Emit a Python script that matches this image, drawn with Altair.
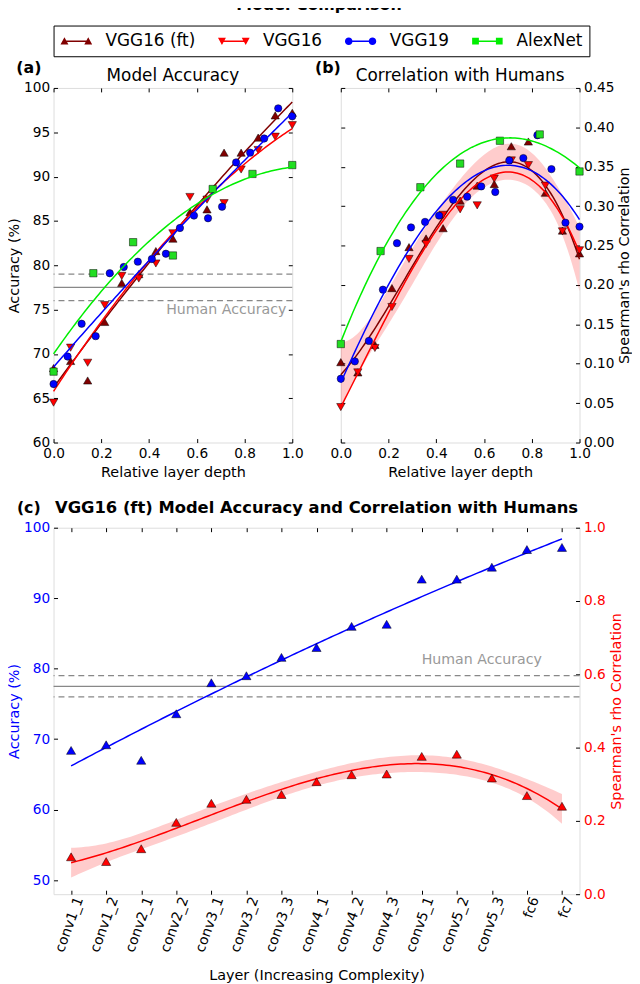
import numpy as np
import pandas as pd
import altair as alt

FONT = "DejaVu Sans"

# ---------------- data ----------------
models = ["VGG16 (ft)", "VGG16", "VGG19", "AlexNet"]
vgg16_layers = ["conv1_1", "conv1_2", "conv2_1", "conv2_2", "conv3_1", "conv3_2",
                "conv3_3", "conv4_1", "conv4_2", "conv4_3", "conv5_1", "conv5_2",
                "conv5_3", "fc6", "fc7"]

acc_vgg16_ft = [68.4, 69.2, 67.0, 73.6, 78.0, 79.0, 81.6, 83.0, 86.0, 86.3, 92.7, 92.7, 94.4, 96.9, 97.2]
acc_vgg16 = [64.5, 70.7, 69.0, 75.5, 78.8, 78.5, 80.2, 83.6, 87.7, 87.4, 87.0, 90.8, 93.0, 94.5, 95.8]
acc_vgg19 = [66.6, 69.7, 73.4, 72.0, 79.1, 79.8, 80.4, 80.7, 81.3, 84.2, 85.6, 85.3, 86.6, 91.6, 92.7, 94.3, 97.7, 96.8]
acc_alexnet = [68.0, 79.1, 82.6, 81.1, 88.6, 90.3, 91.3]

rho_vgg16_ft = [0.102, 0.089, 0.124, 0.196, 0.248, 0.259, 0.272, 0.307, 0.326, 0.328, 0.376, 0.382, 0.317, 0.269, 0.240]
rho_vgg16 = [0.045, 0.089, 0.120, 0.172, 0.233, 0.252, 0.289, 0.296, 0.301, 0.335, 0.358, 0.352, 0.326, 0.268, 0.244]
rho_vgg19 = [0.081, 0.103, 0.129, 0.194, 0.253, 0.273, 0.280, 0.288, 0.308, 0.312, 0.325, 0.318, 0.358, 0.361, 0.390, 0.347, 0.279, 0.274]
rho_alexnet = [0.125, 0.243, 0.324, 0.354, 0.383, 0.391, 0.344]

human_acc_mean = 77.5
human_acc_sd = 1.5

acc = {"VGG16 (ft)": acc_vgg16_ft, "VGG16": acc_vgg16, "VGG19": acc_vgg19, "AlexNet": acc_alexnet}
rho = {"VGG16 (ft)": rho_vgg16_ft, "VGG16": rho_vgg16, "VGG19": rho_vgg19, "AlexNet": rho_alexnet}

# ---------------- styles ----------------
line_color = {"VGG16 (ft)": "#800000", "VGG16": "#ff0000", "VGG19": "#0000ff", "AlexNet": "#00ee00"}
fill_color = {"VGG16 (ft)": "#800000", "VGG16": "#ff0000", "VGG19": "#0000ff", "AlexNet": "#22dd22"}
marker = {"VGG16 (ft)": "triangle-up", "VGG16": "triangle-down", "VGG19": "circle", "AlexNet": "square"}
msize = {"VGG16 (ft)": 70, "VGG16": 70, "VGG19": 55, "AlexNet": 55}


def _tri_up(cx):
    return f"M{cx-1},0.85L{cx},-1L{cx+1},0.85Z"


def _tri_down(cx):
    return f"M{cx-1},-0.85L{cx+1},-0.85L{cx},1Z"


def _square(cx):
    return f"M{cx-0.85},-0.85L{cx+0.85},-0.85L{cx+0.85},0.85L{cx-0.85},0.85Z"


def _circle(cx):
    return f"M{cx-0.95},0A0.95,0.95 0 1,1 {cx+0.95},0A0.95,0.95 0 1,1 {cx-0.95},0Z"


_seg = "M0,-0.19L6,-0.19L6,0.19L0,0.19Z"
legend_path = {
    "VGG16 (ft)": _seg + _tri_up(0) + _tri_up(6),
    "VGG16": _seg + _tri_down(0) + _tri_down(6),
    "VGG19": _seg + _circle(0) + _circle(6),
    "AlexNet": _seg + _square(0) + _square(6),
}

TICK = 4
W_AB, H_AB = 241, 358
W_C, H_C = 531, 370
TICK_FS = 13.8
TITLE_FS = 14.5
LEG_FS = 17

xa = alt.Scale(domain=[0, 1], nice=False, zero=False)
ya = alt.Scale(domain=[60, 100], nice=False, zero=False)
yb = alt.Scale(domain=[0, 0.45], nice=False, zero=False)
xc = alt.Scale(domain=[-0.5, 14.5], nice=False, zero=False)
ycl = alt.Scale(domain=[48, 100], nice=False, zero=False)
ycr = alt.Scale(domain=[0, 1], nice=False, zero=False)


def ax(orient, values, labels=True, fmt=None, title=None, lcolor="black", tcolor="black", **extra):
    d = dict(orient=orient, values=values, tickSize=TICK, offset=-TICK, domain=False, grid=False,
             ticks=True, tickColor="black", tickWidth=1, labels=labels,
             labelFont=FONT, labelFontSize=TICK_FS, labelColor=lcolor, labelPadding=4,
             labelFlush=False, labelOverlap=False,
             titleFont=FONT, titleFontSize=TITLE_FS, titleFontWeight="normal", titleColor=tcolor,
             title=title)
    if fmt:
        d["format"] = fmt
    d.update(extra)
    return alt.Axis(**d)


def fit_poly(x, y, order, xs, t=2.2):
    x = np.asarray(x, float)
    y = np.asarray(y, float)
    X = np.vander(x, order + 1)
    beta = np.linalg.lstsq(X, y, rcond=None)[0]
    resid = y - X @ beta
    s2 = resid @ resid / (len(x) - order - 1)
    cov = np.linalg.inv(X.T @ X) * s2
    Xs = np.vander(xs, order + 1)
    pred = Xs @ beta
    se = np.sqrt(np.einsum("ij,jk,ik->i", Xs, cov, Xs))
    return pd.DataFrame({"x": xs, "y": pred, "lo": pred - t * se, "hi": pred + t * se})


def depth(n):
    return np.linspace(0, 1, n)


def pts(df, m, xs, ys, size=None):
    return alt.Chart(df).mark_point(
        shape=marker[m], filled=True, fill=fill_color[m], stroke="black", strokeWidth=0.5,
        size=size or msize[m], opacity=1
    ).encode(x=alt.X("x:Q", scale=xs, axis=None), y=alt.Y("y:Q", scale=ys, axis=None))


def fline(df, color, xs, ys):
    return alt.Chart(df).mark_line(color=color, strokeWidth=1.5).encode(
        x=alt.X("x:Q", scale=xs, axis=None), y=alt.Y("y:Q", scale=ys, axis=None))


def band(df, xs, ys):
    return alt.Chart(df).mark_area(color="#ff0000", opacity=0.2).encode(
        x=alt.X("x:Q", scale=xs, axis=None), y=alt.Y("lo:Q", scale=ys, axis=None), y2="hi:Q")


def text_at(txt, px, py, size=16, weight="bold"):
    return alt.Chart(pd.DataFrame({"t": [txt]})).mark_text(
        font=FONT, fontSize=size, fontWeight=weight, align="center", baseline="middle", color="black"
    ).encode(text="t:N", x=alt.value(px), y=alt.value(py))


def human_layers(xs, ys, text_x, text_y, dx):
    solid = alt.Chart(pd.DataFrame({"y": [human_acc_mean]})).mark_rule(color="#888888", strokeWidth=1.3).encode(
        y=alt.Y("y:Q", scale=ys, axis=None))
    dashed = alt.Chart(pd.DataFrame({"y": [human_acc_mean - human_acc_sd, human_acc_mean + human_acc_sd]})).mark_rule(
        color="#888888", strokeWidth=1.3, strokeDash=[6, 4]).encode(y=alt.Y("y:Q", scale=ys, axis=None))
    txt = alt.Chart(pd.DataFrame({"x": [text_x], "y": [text_y], "t": ["Human Accuracy"]})).mark_text(
        font=FONT, fontSize=14.3, color="#999999", align="right", baseline="middle", dx=dx
    ).encode(x=alt.X("x:Q", scale=xs, axis=None), y=alt.Y("y:Q", scale=ys, axis=None), text="t:N")
    return [solid, dashed, txt]


xs01 = np.linspace(0, 1, 101)

# ---------------- panel (a) ----------------
df_ft_a = pd.DataFrame({"x": depth(len(acc_vgg16_ft)), "y": acc_vgg16_ft})
axes_a = alt.Chart(df_ft_a).mark_point(opacity=0).encode(
    x=alt.X("x:Q", scale=xa, axis=ax("bottom", [0, 0.2, 0.4, 0.6, 0.8, 1.0], fmt=".1f",
                                      title="Relative layer depth", titlePadding=5)),
    y=alt.Y("y:Q", scale=ya, axis=ax("left", [60, 65, 70, 75, 80, 85, 90, 95, 100],
                                     title="Accuracy (%)", titlePadding=2)))
frame_a = alt.Chart(df_ft_a).mark_point(opacity=0).encode(
    x=alt.X("x:Q", scale=xa, axis=ax("top", [0, 0.2, 0.4, 0.6, 0.8, 1.0], labels=False)),
    y=alt.Y("y:Q", scale=ya, axis=ax("right", [60, 65, 70, 75, 80, 85, 90, 95, 100], labels=False)))

layers_a = [axes_a, frame_a] + human_layers(xa, ya, 1.0, human_acc_mean - human_acc_sd - 1.0, -6)
for m in models:
    d = pd.DataFrame({"x": depth(len(acc[m])), "y": acc[m]})
    layers_a.append(pts(d, m, xa, ya))
    layers_a.append(fline(fit_poly(d.x, d.y, 2, xs01), line_color[m], xa, ya))

leg = alt.Legend(orient="none", legendX=0, legendY=-63, direction="horizontal", title=None,
                 strokeColor="black", padding=7, columnPadding=22, labelFont=FONT,
                 labelFontSize=LEG_FS, labelColor="black", labelOffset=33, symbolOffset=-4.5,
                 symbolSize=64, symbolStrokeWidth=0, symbolOpacity=1)
legend_layer = alt.Chart(pd.DataFrame({"model": models})).mark_point(filled=True, clip=True, size=64).encode(
    x=alt.value(-100), y=alt.value(-100),
    color=alt.Color("model:N", scale=alt.Scale(domain=models, range=[line_color[m] for m in models]), legend=leg),
    shape=alt.Shape("model:N", scale=alt.Scale(domain=models, range=[legend_path[m] for m in models]), legend=leg))
layers_a += [legend_layer,
             text_at("(a)", -25, -20),
             text_at("Model Accuracy", W_AB / 2, -12, size=17, weight="normal")]

panel_a = alt.layer(*layers_a).resolve_axis(x="independent", y="independent").properties(
    width=W_AB, height=H_AB)

# ---------------- panel (b) ----------------
df_ft_b = pd.DataFrame({"x": depth(len(rho_vgg16_ft)), "y": rho_vgg16_ft})
yvals_b = [0.0, 0.05, 0.1, 0.15, 0.2, 0.25, 0.3, 0.35, 0.4, 0.45]
axes_b = alt.Chart(df_ft_b).mark_point(opacity=0).encode(
    x=alt.X("x:Q", scale=xa, axis=ax("bottom", [0, 0.2, 0.4, 0.6, 0.8, 1.0], fmt=".1f",
                                      title="Relative layer depth", titlePadding=5)),
    y=alt.Y("y:Q", scale=yb, axis=ax("right", yvals_b, fmt=".2f", title="Spearman's rho Correlation",
                                     titleAngle=270, titleBaseline="top", titlePadding=4)))
frame_b = alt.Chart(df_ft_b).mark_point(opacity=0).encode(
    x=alt.X("x:Q", scale=xa, axis=ax("top", [0, 0.2, 0.4, 0.6, 0.8, 1.0], labels=False)),
    y=alt.Y("y:Q", scale=yb, axis=ax("left", yvals_b, labels=False)))

layers_b = [axes_b, frame_b, band(fit_poly(df_ft_b.x, df_ft_b.y, 3, xs01), xa, yb)]
for m in models:
    d = pd.DataFrame({"x": depth(len(rho[m])), "y": rho[m]})
    layers_b.append(pts(d, m, xa, yb))
    layers_b.append(fline(fit_poly(d.x, d.y, 3, xs01), line_color[m], xa, yb))
layers_b += [text_at("(b)", -13, -20),
             text_at("Correlation with Humans", W_AB / 2, -12, size=17, weight="normal")]

panel_b = alt.layer(*layers_b).resolve_axis(x="independent", y="independent").properties(
    width=W_AB, height=H_AB)

# ---------------- panel (c) ----------------
idx = np.arange(len(vgg16_layers))
df_acc_c = pd.DataFrame({"x": idx, "y": acc_vgg16_ft})
df_rho_c = pd.DataFrame({"x": idx, "y": rho_vgg16_ft})
xs_c = np.linspace(0, len(vgg16_layers) - 1, 141)
label_expr = "[" + ",".join(f"'{n}'" for n in vgg16_layers) + "][datum.value]"

axes_cl = alt.Chart(df_acc_c).mark_point(opacity=0).encode(
    x=alt.X("x:Q", scale=xc, axis=ax("bottom", list(range(len(vgg16_layers))), labelExpr=label_expr,
                                      labelAngle=290, labelAlign="right", labelBaseline="middle",
                                      labelFontSize=14, labelOffset=8, labelPadding=3,
                                      title="Layer (Increasing Complexity)", titlePadding=15)),
    y=alt.Y("y:Q", scale=ycl, axis=ax("left", [50, 60, 70, 80, 90, 100], lcolor="#0000ff", tcolor="#0000ff",
                                      title="Accuracy (%)", titlePadding=2)))
frame_c = alt.Chart(df_acc_c).mark_point(opacity=0).encode(
    x=alt.X("x:Q", scale=xc, axis=ax("top", list(range(len(vgg16_layers))), labels=False)),
    y=alt.Y("y:Q", scale=ycl, axis=None))

c_left = alt.layer(
    axes_cl, frame_c,
    *human_layers(xc, ycl, 14.5, human_acc_mean + human_acc_sd + 2.2, -38),
    fline(fit_poly(idx, acc_vgg16_ft, 2, xs_c), "#0000ff", xc, ycl),
    alt.Chart(df_acc_c).mark_point(shape="triangle-up", filled=True, fill="#0000ff", stroke="black",
                                   strokeWidth=0.5, size=85, opacity=1).encode(
        x=alt.X("x:Q", scale=xc, axis=None), y=alt.Y("y:Q", scale=ycl, axis=None)),
    text_at("(c)", -25, -20),
    text_at("VGG16 (ft) Model Accuracy and Correlation with Humans", W_C / 2, -20, size=16.5),
).resolve_axis(x="independent", y="independent")

axes_cr = alt.Chart(df_rho_c).mark_point(opacity=0).encode(
    x=alt.X("x:Q", scale=xc, axis=None),
    y=alt.Y("y:Q", scale=ycr, axis=ax("right", [0, 0.2, 0.4, 0.6, 0.8, 1.0], fmt=".1f",
                                      lcolor="#ff0000", tcolor="#ff0000", title="Spearman's rho Correlation",
                                      titleAngle=270, titleBaseline="top", titlePadding=4)))
fit_c = fit_poly(idx, rho_vgg16_ft, 3, xs_c)
c_right = alt.layer(
    axes_cr,
    band(fit_c, xc, ycr),
    fline(fit_c, "#ff0000", xc, ycr),
    alt.Chart(df_rho_c).mark_point(shape="triangle-up", filled=True, fill="#ff0000", stroke="black",
                                   strokeWidth=0.5, size=85, opacity=1).encode(
        x=alt.X("x:Q", scale=xc, axis=None), y=alt.Y("y:Q", scale=ycr, axis=None)),
).resolve_axis(x="independent", y="independent")

panel_c = alt.layer(c_left, c_right).resolve_scale(y="independent").resolve_axis(
    x="independent", y="independent").properties(width=W_C, height=H_C)

row_ab = alt.hconcat(panel_a, panel_b, spacing=49, bounds="flush")

chart = alt.vconcat(row_ab, panel_c, spacing=20).properties(
    title=alt.TitleParams("Model Comparison", font=FONT, fontSize=16, fontWeight="bold", offset=12, anchor="middle"),
    padding={"left": -2, "top": -16, "right": 0, "bottom": 0},
).configure_view(stroke="black", strokeWidth=1).configure(background="white")

chart.save("out.html", embed_options={"renderer": "svg", "actions": False})
